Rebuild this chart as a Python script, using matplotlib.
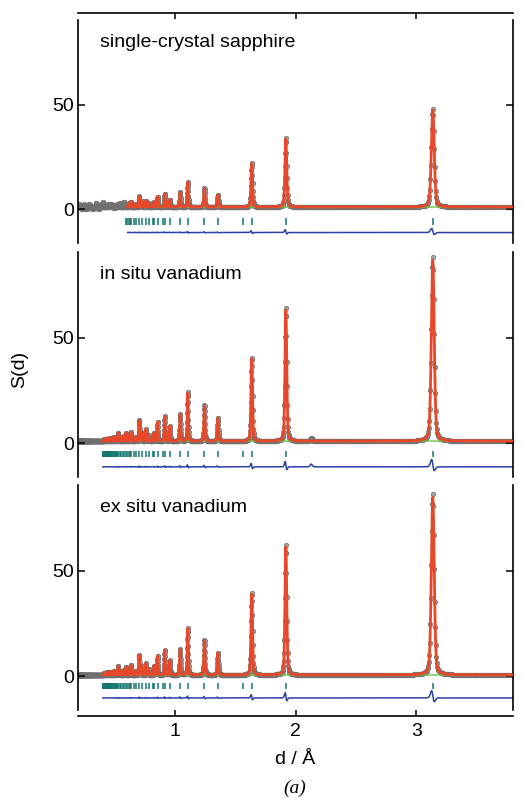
import numpy as np
import matplotlib
matplotlib.use('Agg')
import matplotlib.pyplot as plt

plt.rcParams['font.family'] = ['Liberation Sans', 'DejaVu Sans']

# Si reflection positions (d / A) drawn as tick marks under each pattern
reflection_d = [3.1356, 1.9201, 1.6375, 1.5678, 1.3578, 1.2460, 1.1086, 1.0452,
                0.9601, 0.9180, 0.9052, 0.8587, 0.8282, 0.8187, 0.7839, 0.7605,
                0.7258, 0.7071, 0.6789, 0.6635, 0.6401, 0.6271, 0.6230, 0.6072,
                0.5961, 0.5789, 0.5693, 0.5543, 0.5458, 0.5326, 0.5250, 0.5226,
                0.5132, 0.5064, 0.4958, 0.4897, 0.4800, 0.4745, 0.4657, 0.4607,
                0.4590, 0.4526, 0.4479, 0.4405, 0.4362, 0.4294, 0.4254, 0.4190,
                0.4153, 0.4141, 0.4094, 0.4059]

# peak positions and peak heights above background
peak_d = [3.1356, 1.9201, 1.6375, 1.3578, 1.2460, 1.1086, 1.0452, 0.9601,
          0.9180, 0.8587, 0.8282, 0.7839, 0.7605, 0.7258, 0.7071, 0.6789,
          0.6401, 0.6271, 0.5961, 0.5789, 0.5458, 0.5326, 0.5132, 0.4958,
          0.4800, 0.4657, 0.4526, 0.4405, 0.4294, 0.4190]
height_sapphire = [47.0, 33.0, 21.0, 6.0, 9.0, 12.0, 7.0, 3.5,
                   6.4, 5.0, 2.5, 2.0, 3.0, 3.0, 5.0, 1.5,
                   2.5, 2.0, 1.5, 1.5, 1.5, 1.5, 1.0, 1.0,
                   1.0, 1.0, 1.0, 1.0, 1.0, 1.0]
height_insitu = [87.0, 63.0, 39.5, 11.0, 17.0, 23.0, 12.7, 7.1,
                 11.9, 9.2, 3.9, 3.0, 5.5, 4.0, 9.8, 2.0,
                 4.2, 3.0, 3.9, 2.5, 2.0, 3.9, 2.0, 2.0,
                 1.5, 1.5, 1.2, 1.2, 1.0, 1.0]
height_exsitu = [85.5, 61.5, 38.9, 10.6, 16.6, 22.2, 12.2, 6.8,
                 11.9, 9.0, 4.3, 3.0, 5.5, 4.0, 9.5, 2.0,
                 4.7, 3.0, 3.6, 2.5, 2.0, 4.3, 2.0, 2.0,
                 1.5, 1.5, 1.2, 1.2, 1.0, 1.0]

# weak features / noise in the data that the fit does not describe
extra_d = [[0.21, 0.23, 0.25, 0.27, 0.29, 0.30, 0.32, 0.35, 0.37, 0.39,
            0.405, 0.43, 0.45, 0.47, 0.50, 0.52, 0.55, 0.58],
           [2.13], []]
extra_h = [[1.5, -1.2, 1.2, -1.0, 1.3, 1.0, -1.1, 1.8, -1.0, 1.2,
            2.5, -0.9, 1.0, 1.4, -0.8, 1.0, 0.9, 1.2],
           [1.3], []]

panel_names = ['single-crystal sapphire', 'in situ vanadium', 'ex situ vanadium']
panel_heights = [height_sapphire, height_insitu, height_exsitu]
background = [1.2, 1.0, 0.6]
fit_start = [0.61, 0.405, 0.405]
tick_level = [-5.6, -5.1, -4.6]
diff_level = [-11.0, -11.2, -10.3]

RED = '#e8482a'
TEAL = '#13756e'
BLUE = '#2b3fa6'
GREEN = '#6cc04a'


def profile(x, centers, heights, rel_fwhm=0.009, eta=0.3):
    y = np.zeros_like(x)
    for c, h in zip(centers, heights):
        w = rel_fwhm * c
        u = (x - c) / w
        y += h * ((1 - eta) * np.exp(-4 * np.log(2) * u ** 2) + eta / (1 + 4 * u ** 2))
    return y


d = np.geomspace(0.2, 3.8, 2300)

W, H = 526, 799
fig = plt.figure(figsize=(W / 100, H / 100), dpi=100)
left, right = 78 / W, 513 / W
spans = [(20, 243), (252, 477), (485, 710)]
axes = []
for top, bot in spans:
    axes.append(fig.add_axes([left, 1 - bot / H, right - left, (bot - top) / H]))

pk = np.array(peak_d)
for i, ax in enumerate(axes):
    h = np.array(panel_heights[i])
    obs = background[i] + profile(d, pk, h) + profile(d, extra_d[i], extra_h[i])
    calc = background[i] + profile(d, pk * 1.0002, h * 0.985)
    m = d >= fit_start[i]

    ax.plot(d, obs, 'o', ms=3.2, mfc='#a5a5a5', mec='#6f6f6f', mew=0.5, zorder=1)
    ax.plot(d[m], np.full(m.sum(), background[i]), color=GREEN, lw=1.0, zorder=2)
    ax.plot(d[m], calc[m], color=RED, lw=2.0, zorder=3)
    refl = [r for r in reflection_d if r >= fit_start[i] - 0.02]
    ax.vlines(refl, tick_level[i] - 1.6, tick_level[i] + 1.6, color=TEAL, lw=1.1)
    ax.plot(d[m], diff_level[i] + obs[m] - calc[m], color=BLUE, lw=1.1)

    ax.text(0.05, 0.90, panel_names[i], transform=ax.transAxes, fontsize=14,
            ha='left', va='center')

    ax.set_xlim(0.2, 3.8)
    ax.set_ylim(-16, 90.5)
    ax.set_yticks([0, 50])
    ax.set_xticks([1, 2, 3])
    ax.tick_params(axis='y', direction='in', left=True, right=True, length=5,
                   width=1.1, labelsize=14, pad=3)
    for s in ('left', 'right'):
        ax.spines[s].set_linewidth(1.2)
    ax.spines['top'].set_visible(False)
    ax.spines['bottom'].set_visible(False)
    ax.tick_params(axis='x', bottom=False, top=False, labelbottom=False)

axes[0].spines['top'].set_visible(True)
axes[0].spines['top'].set_position(('outward', 5))
axes[0].spines['top'].set_linewidth(1.2)
axes[0].tick_params(axis='x', top=True, direction='in', length=4, width=1.1)

axes[2].spines['bottom'].set_visible(True)
axes[2].spines['bottom'].set_position(('outward', 4))
axes[2].spines['bottom'].set_linewidth(1.2)
axes[2].tick_params(axis='x', bottom=True, labelbottom=True, direction='in',
                    length=4, width=1.1, labelsize=14, pad=5)

fig.text(20 / W, 1 - 369 / H, 'S(d)', rotation=90, ha='center', va='center', fontsize=14)
fig.text(295 / W, 1 - 760 / H, 'd / Å', ha='center', va='center', fontsize=14)
fig.text(295 / W, 1 - 788 / H, '(a)', ha='center', va='center', fontsize=14,
         family='Liberation Serif', style='italic')

fig.savefig('out.png', dpi=100)
